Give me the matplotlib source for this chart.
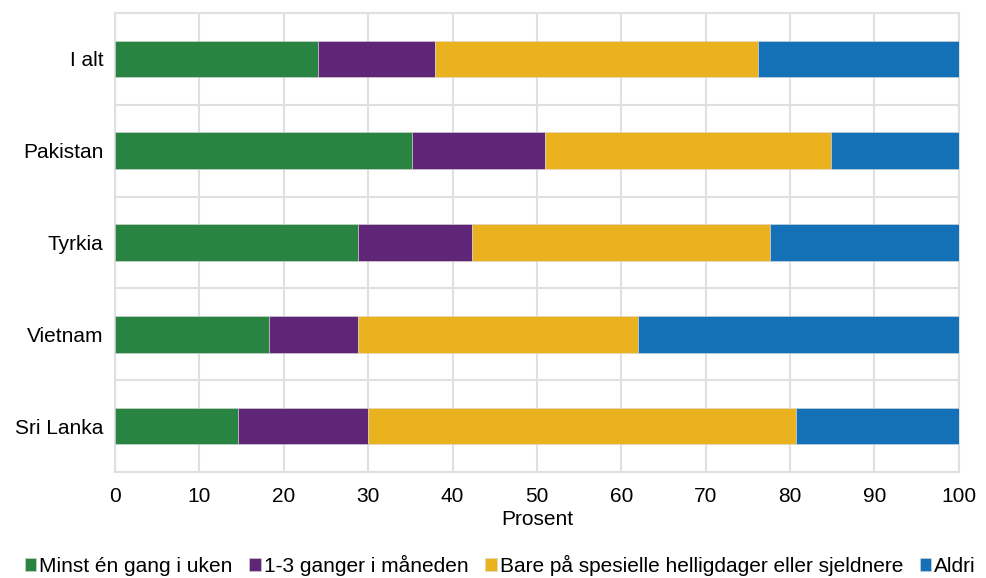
import numpy as np
import matplotlib
matplotlib.use("Agg")
import matplotlib.pyplot as plt

plt.rcParams['font.family'] = ['Liberation Sans', 'DejaVu Sans']

# categories, top to bottom
countries = ["I alt", "Pakistan", "Tyrkia", "Vietnam", "Sri Lanka"]

# percent shares per answer
ukentlig = [24.1, 35.2, 28.8, 18.3, 14.6]
maanedlig = [13.8, 15.8, 13.5, 10.5, 15.4]
helligdager = [38.3, 33.8, 35.3, 33.2, 50.7]
aldri = [23.8, 15.2, 22.4, 38.0, 19.3]

series_names = ["Minst én gang i uken", "1-3 ganger i måneden",
                "Bare på spesielle helligdager eller sjeldnere", "Aldri"]
colors = ["#2a8441", "#5f2677", "#ebb220", "#1471b7"]

fig = plt.figure(figsize=(9.87, 5.78), dpi=100)
ax = fig.add_axes([0.1165, 0.1834, 0.855, 0.794])

y = np.arange(len(countries))[::-1]
left = np.zeros(len(countries))
for vals, name, col in zip([ukentlig, maanedlig, helligdager, aldri], series_names, colors):
    ax.barh(y, vals, left=left, height=0.4, color=col, label=name,
            edgecolor="#d8d8d8", linewidth=0.4, zorder=3)
    left = left + np.array(vals)

ax.set_xlim(0, 100)
ax.set_ylim(-0.5, len(countries) - 0.5)
ax.set_xticks(np.arange(0, 101, 10))
ax.set_yticks(y)
ax.set_yticklabels(countries)
ax.set_yticks(np.arange(-0.5, len(countries), 1), minor=True)
ax.tick_params(axis="both", which="both", length=0, labelsize=15, colors="#000000")
ax.tick_params(axis="x", pad=11)
ax.tick_params(axis="y", pad=8.5)

ax.grid(axis="x", which="major", color="#e0e0e0", linewidth=1.5, zorder=0)
ax.grid(axis="y", which="minor", color="#e0e0e0", linewidth=1.5, zorder=0)
for s in ax.spines.values():
    s.set_color("#e0e0e0")
    s.set_linewidth(1.5)

ax.set_xlabel("Prosent", fontsize=15, labelpad=3)

fig.legend(loc="center", bbox_to_anchor=(0.507, 0.022), ncol=4, frameon=False,
           fontsize=15, handlelength=0.55, handleheight=0.55, handletextpad=0.15,
           columnspacing=0.8, borderpad=0)

fig.savefig("out.png", dpi=100)
